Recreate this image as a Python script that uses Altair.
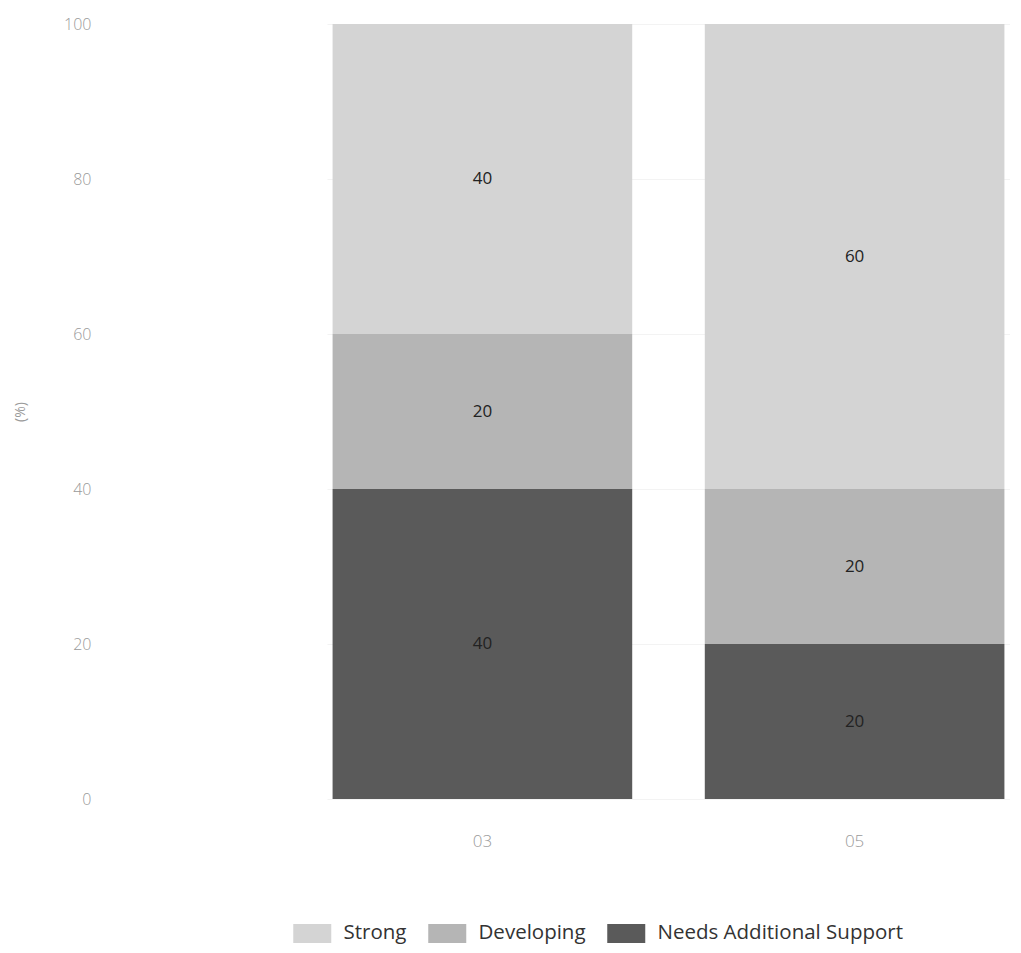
import altair as alt
import pandas as pd

grades = ["03", "03", "03", "05", "05", "05"]
levels = ["Strong", "Developing", "Needs Additional Support",
          "Strong", "Developing", "Needs Additional Support"]
values = [40, 20, 40, 60, 20, 20]
level_order = ["Strong", "Developing", "Needs Additional Support"]
stack_rank = [2, 1, 0, 2, 1, 0]
colors = ["#d4d4d4", "#b5b5b5", "#5a5a5a"]

df = pd.DataFrame({"grade": grades, "level": levels, "value": values, "rank": stack_rank})

base = alt.Chart(df).transform_stack(
    stack="value", groupby=["grade"], as_=["y0", "y1"],
    sort=[alt.SortField("rank", order="ascending")]
).transform_calculate(mid="(datum.y0 + datum.y1) / 2")

x_enc = alt.X("grade:N", title=None,
              scale=alt.Scale(paddingInner=0.195, paddingOuter=0.015),
              axis=alt.Axis(labelAngle=0, domain=False, ticks=False, labelPadding=34,
                            labelColor="#9a9a9a", labelFontSize=17, labelFont="Open Sans",
                            labelFontWeight=300))

bars = base.mark_bar().encode(
    x=x_enc,
    y=alt.Y("y0:Q", title="(%)", scale=alt.Scale(domain=[0, 100]),
            axis=alt.Axis(values=[0, 20, 40, 60, 80, 100], domain=False, ticks=False,
                          labelColor="#9a9a9a", labelFontSize=16, labelFont="Open Sans",
                          labelFontWeight=300, labelPadding=10, offset=226,
                          gridColor="#f3f3f3", titleColor="#9a9a9a", titleFontSize=14,
                          titleFont="Open Sans", titleFontWeight="normal", titlePadding=36)),
    y2="y1:Q",
    color=alt.Color("level:N", scale=alt.Scale(domain=level_order, range=colors),
                    legend=alt.Legend(title=None, orient="none", direction="horizontal",
                                      legendX=-25, legendY=899,
                                      symbolType="M-2,-1L2,-1L2,1L-2,1Z",
                                      symbolSize=361, symbolStrokeWidth=0,
                                      symbolOpacity=1, labelFontSize=20.5,
                                      labelFont="Open Sans", labelColor="#333333",
                                      labelOffset=21, columnPadding=21, labelLimit=400)),
)

labels = base.mark_text(fontSize=17, font="Open Sans", color="#222222").encode(
    x=alt.X("grade:N"),
    y=alt.Y("mid:Q"),
    text=alt.Text("value:Q"),
)

chart = alt.layer(bars, labels).properties(
    width=683, height=775,
    padding={"left": 5, "top": 8, "right": 0, "bottom": 5},
).configure_view(stroke=None).configure_axis(gridWidth=1)

chart.save("out.html", embed_options={"renderer": "svg", "actions": False})
